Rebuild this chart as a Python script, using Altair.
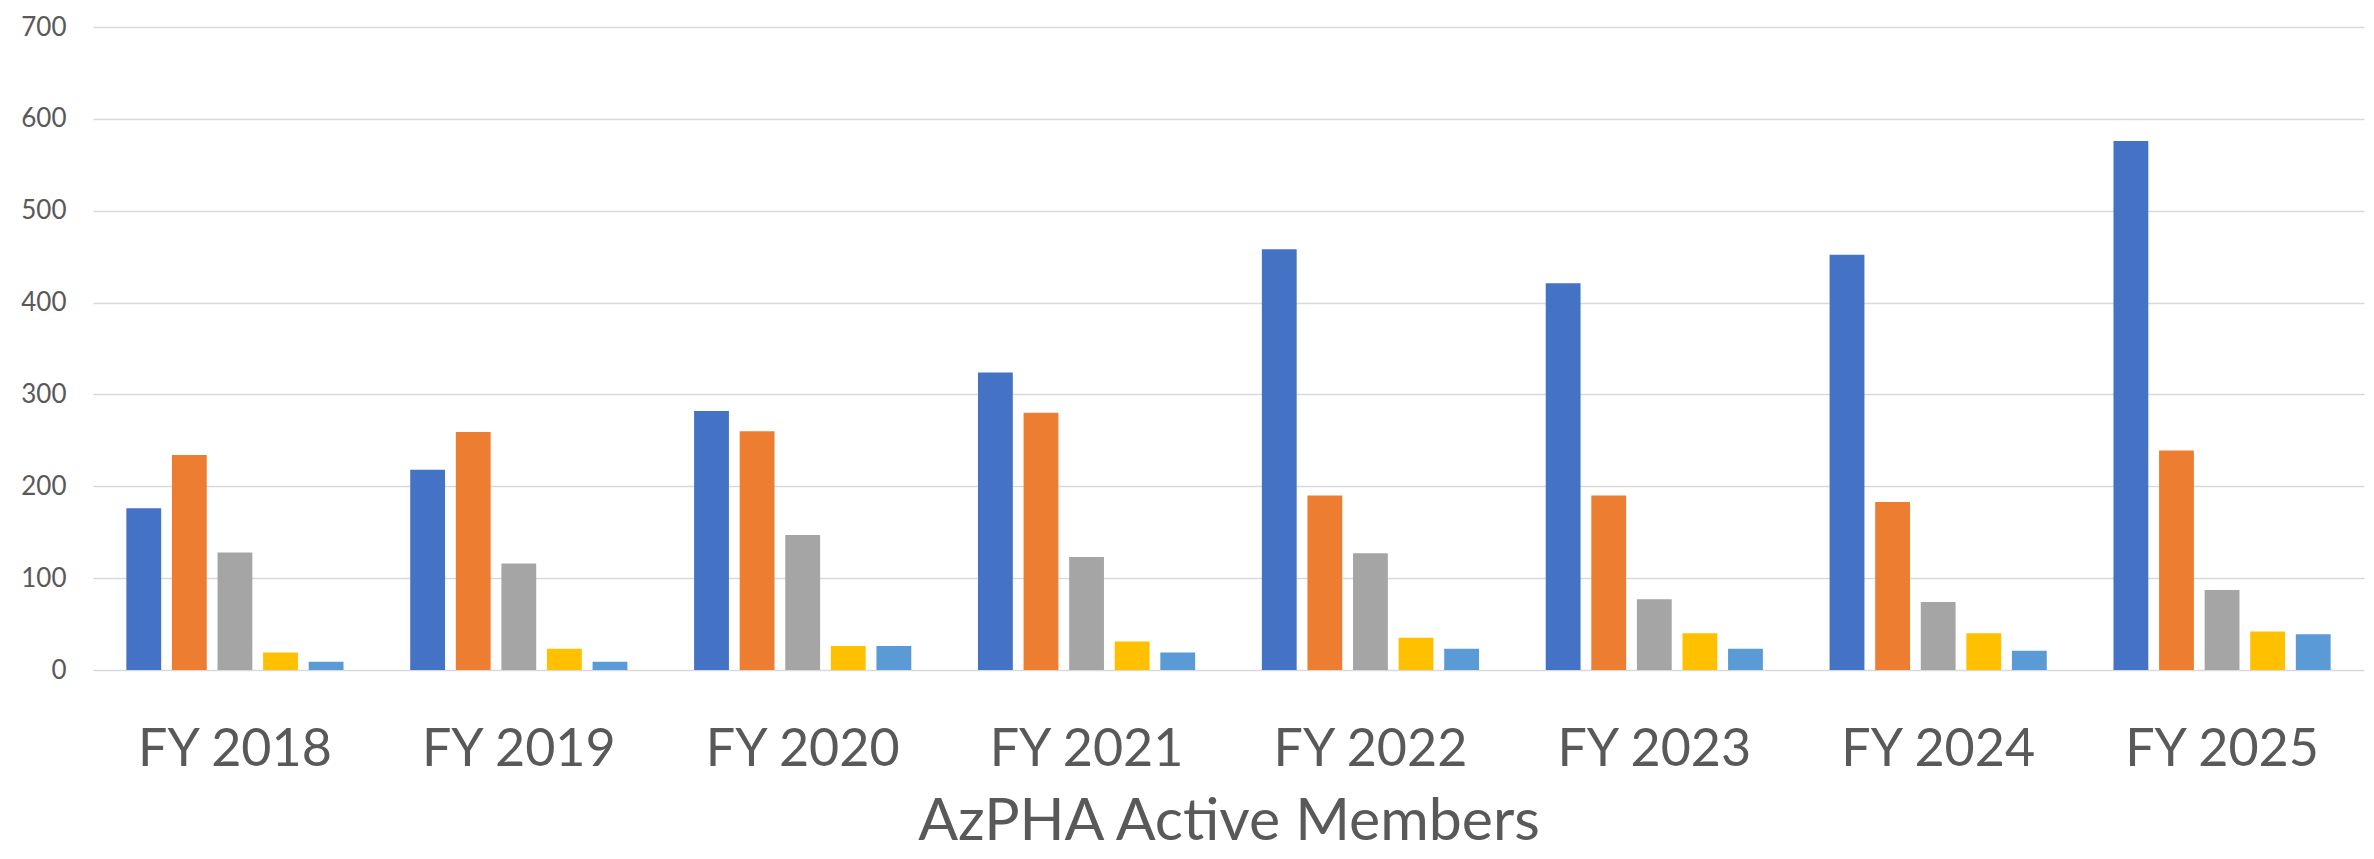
import altair as alt
import pandas as pd

years = ["FY 2018", "FY 2019", "FY 2020", "FY 2021", "FY 2022", "FY 2023", "FY 2024", "FY 2025"]
series_names = ["Series 1", "Series 2", "Series 3", "Series 4", "Series 5"]
s1 = [176, 218, 282, 324, 458, 421, 452, 576]
s2 = [234, 259, 260, 280, 190, 190, 183, 239]
s3 = [128, 116, 147, 123, 127, 77, 74, 87]
s4 = [19, 23, 26, 31, 35, 40, 40, 42]
s5 = [9, 9, 26, 19, 23, 23, 21, 39]
colors = ["#4472C4", "#ED7D31", "#A5A5A5", "#FFC000", "#5B9BD5"]
y_ticks = [0, 100, 200, 300, 400, 500, 600, 700]

rows = []
for name, vals in zip(series_names, [s1, s2, s3, s4, s5]):
    for yr, v in zip(years, vals):
        rows.append({"year": yr, "series": name, "value": v})
df = pd.DataFrame(rows)

chart = alt.Chart(df).mark_bar().encode(
    x=alt.X(
        "year:N",
        sort=years,
        scale=alt.Scale(paddingInner=0.235, paddingOuter=0.1175),
        axis=alt.Axis(
            title="AzPHA Active Members",
            labelAngle=0,
            labelFont="Lato",
            labelFontSize=52,
            labelColor="#595959",
            labelBaseline="alphabetic",
            labelPadding=95,
            labelLimit=0,
            ticks=False,
            tickSize=0,
            domain=False,
            titleFont="Lato",
            titleFontSize=59,
            titleFontWeight="normal",
            titleColor="#595959",
            titleBaseline="alphabetic",
            titleLimit=0,
            titleY=169,
        ),
    ),
    xOffset=alt.XOffset(
        "series:N",
        sort=series_names,
        scale=alt.Scale(paddingInner=0.236, paddingOuter=0),
    ),
    y=alt.Y(
        "value:Q",
        scale=alt.Scale(domain=[0, 700]),
        axis=alt.Axis(
            values=y_ticks,
            title=None,
            labelFont="Lato",
            labelFontSize=26,
            labelColor="#595959",
            labelPadding=27,
            ticks=False,
            tickSize=0,
            domain=False,
            gridColor="#D9D9D9",
            gridWidth=1.5,
        ),
    ),
    color=alt.Color(
        "series:N",
        sort=series_names,
        scale=alt.Scale(domain=series_names, range=colors),
        legend=None,
    ),
).properties(
    width=2271,
    height=643,
    autosize=alt.AutoSizeParams(type="none"),
    padding={"left": 85, "top": 19, "right": 2, "bottom": 181},
).configure_view(stroke=None)

chart.save("out.html", embed_options={"renderer": "svg", "actions": False})
